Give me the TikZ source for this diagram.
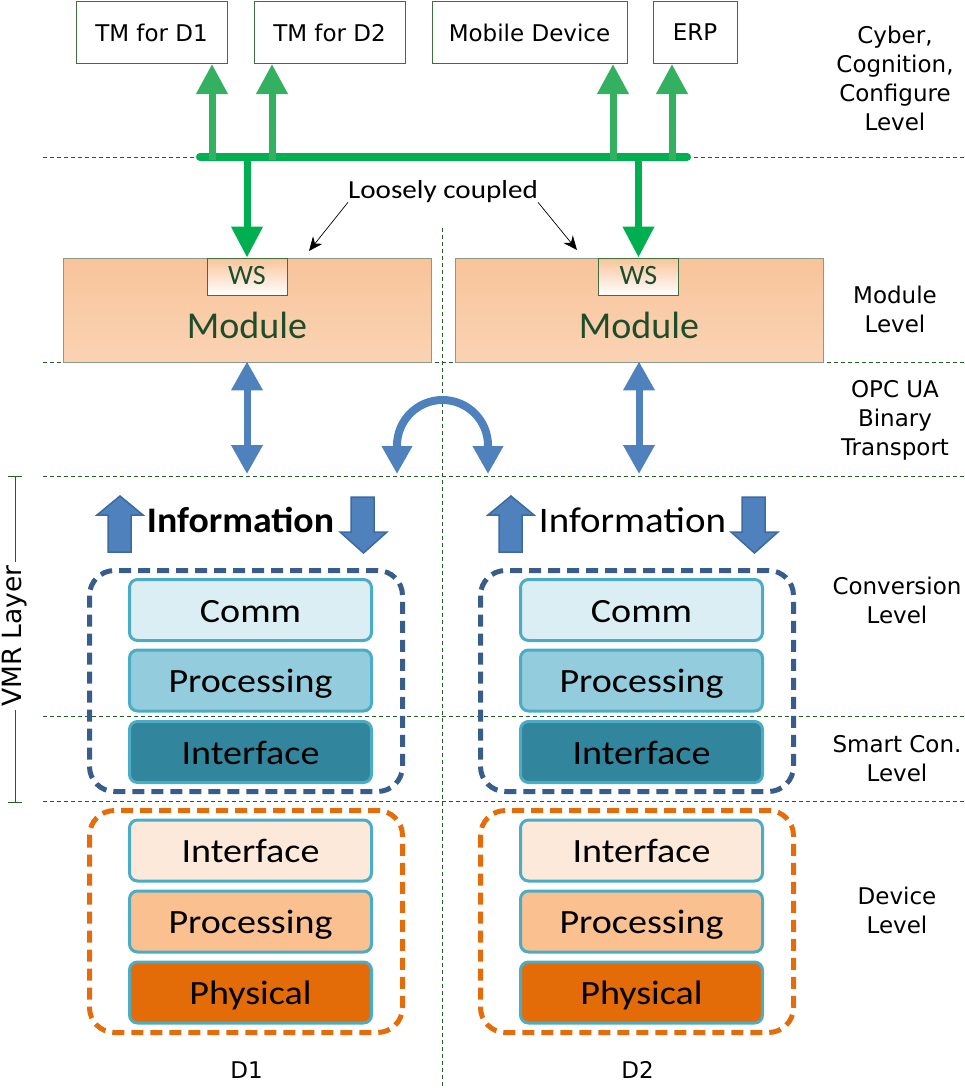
\documentclass[tikz,border=0pt]{standalone}
\usepackage{fontspec}
\setmainfont{DejaVu Sans}
\newfontfamily\calfont{Carlito}
\newfontfamily\calwide[FakeStretch=1.12]{Carlito}
\newfontfamily\calinfo[FakeStretch=1.08]{Carlito}
\newfontfamily\calinfob[FakeStretch=1.05]{Carlito Bold}
\usetikzlibrary{arrows.meta}
\definecolor{busgreen}{HTML}{00B050}
\definecolor{upgreen}{HTML}{33B161}
\definecolor{boxgreen}{HTML}{3F6F3F}
\definecolor{sepgreen}{HTML}{1F5F1F}
\definecolor{modtop}{HTML}{F8C49A}
\definecolor{modbot}{HTML}{FAD3B4}
\definecolor{modborder}{HTML}{8A9A8A}
\definecolor{modtext}{HTML}{1E4D2B}
\definecolor{opcblue}{HTML}{4F81BD}
\definecolor{infodraw}{HTML}{3C6AA0}
\definecolor{vmrdash}{HTML}{385D8A}
\definecolor{devdash}{HTML}{E46C0A}
\definecolor{layerborder}{HTML}{4BACC6}
\definecolor{commc}{HTML}{DAEEF3}
\definecolor{vprocc}{HTML}{93CDDD}
\definecolor{vintc}{HTML}{31859C}
\definecolor{dintc}{HTML}{FDE9D9}
\definecolor{dprocc}{HTML}{FAC090}
\definecolor{dphysc}{HTML}{E36C09}
\begin{document}
\begin{tikzpicture}[x=1pt,y=-1pt,
  topbox/.style={draw=boxgreen, line width=1pt, minimum height=62pt, inner sep=0pt, font=\fontsize{23}{28}\selectfont},
  levellabel/.style={align=center, font=\fontsize{23}{29}\selectfont},
  sepline/.style={draw=sepgreen, line width=1pt, dash pattern=on 4pt off 3pt},
  bus/.style={line width=8pt, draw=busgreen, line cap=round},
  upg/.style={line width=7pt, draw=upgreen, -{Triangle[width=30pt,length=30pt]}},
  downg/.style={line width=7pt, draw=busgreen, -{Triangle[width=30pt,length=31pt]}},
  module/.style={draw=modborder, line width=0.8pt, top color=modtop, bottom color=modbot, minimum width=368pt, minimum height=104pt, inner sep=0pt},
  wsbox/.style={draw=boxgreen, line width=0.8pt, top color=modtop, bottom color=white, minimum width=80pt, minimum height=37pt, inner sep=0pt},
  wstext/.style={text=modtext, font=\calfont\fontsize{28}{30}\selectfont, inner sep=0pt},
  modtxt/.style={text=modtext, font=\calfont\fontsize{38}{40}\selectfont, inner sep=0pt},
  opc/.style={line width=7pt, draw=opcblue, {Triangle[width=30pt,length=29pt]}-{Triangle[width=30pt,length=29pt]}},
  curvearrow/.style={line width=8pt, draw=opcblue, {Triangle[width=29pt,length=28pt]}-{Triangle[width=29pt,length=28pt]}},
  infoarrow/.style={fill=opcblue, draw=infodraw, line width=1.5pt, line join=miter},
  infotext/.style={inner sep=0pt},
  layer/.style={draw=layerborder, line width=3pt, rounded corners=8pt, minimum width=242pt, minimum height=61pt, inner sep=0pt, text height=24pt, text depth=0pt, font=\calwide\fontsize{34}{40}\selectfont},
  vmrbox/.style={draw=vmrdash, line width=5pt, dash pattern=on 12pt off 7pt, rounded corners=25pt},
  devbox/.style={draw=devdash, line width=5pt, dash pattern=on 12pt off 7pt, rounded corners=25pt},
  lcarrow/.style={draw=black, line width=0.7pt, -{Stealth[length=14pt,width=12pt]}},
  vmrline/.style={draw=sepgreen, line width=1pt},
  dlabel/.style={font=\fontsize{23}{28}\selectfont, inner sep=0pt}
]
\useasboundingbox (0,0) rectangle (965,1088);

% separator lines
\foreach \yy in {157,362,476,716,801} {\draw[sepline] (43,\yy) -- (965,\yy);}
\draw[sepline] (442,228) -- (442,1088);

% top boxes
\node[topbox, minimum width=151pt] (tm1) at (151.5,32.5) {TM for D1};
\node[topbox, minimum width=151pt] (tm2) at (329.5,32.5) {TM for D2};
\node[topbox, minimum width=195pt] (mob) at (529.5,32.5) {Mobile Device};
\node[topbox, minimum width=84pt] (erp) at (695,32.5) {ERP};

% level labels
\node[levellabel] (lvcyber) at (895,78) {Cyber,\\Cognition,\\Configure\\Level};
\node[levellabel] (lvmod) at (895,309) {Module\\Level};
\node[levellabel] (lvopc) at (895,420) {OPC UA\\Binary\\Transport};
\node[levellabel] (lvconv) at (897,600) {Conversion\\Level};
\node[levellabel] (lvsmart) at (897,759) {Smart Con.\\Level};
\node[levellabel] (lvdev) at (897,910) {Device\\Level};

% modules
\node[module] (mod1) at (247,310) {};
\node[module] (mod2) at (639,310) {};
\node[wsbox] (ws1) at (247,276.5) {};
\node[wsbox] (ws2) at (638.5,276.5) {};
\node[wstext, anchor=base] (wst1) at (247,284) {WS};
\node[wstext, anchor=base] (wst2) at (638.5,284) {WS};
\node[modtxt, anchor=base] (mt1) at (247,338) {Module};
\node[modtxt, anchor=base] (mt2) at (639,338) {Module};

% bus
\coordinate (busl) at (200,157);
\coordinate (busr) at (687,157);
\draw[bus] (busl) -- (busr);
\coordinate (b1) at (212,160);
\coordinate (b2) at (272,160);
\coordinate (b3) at (613,160);
\coordinate (b4) at (672,160);
\draw[upg] (b1) -- (b1 |- tm1.south);
\draw[upg] (b2) -- (b2 |- tm2.south);
\draw[upg] (b3) -- (b3 |- mob.south);
\draw[upg] (b4) -- (b4 |- erp.south);
\coordinate (bd1) at (247,157);
\coordinate (bd2) at (638.5,157);
\draw[downg] (bd1) -- (ws1.north);
\draw[downg] (bd2) -- (ws2.north);

% loosely coupled
\node[font=\calwide\fontsize{26}{28}\selectfont, inner sep=0pt, anchor=base] (lc) at (443,198) {Loosely coupled};
\coordinate (lct1) at (309,251);
\coordinate (lct2) at (577,250);
\draw[lcarrow] (lc.south west) -- (lct1);
\draw[lcarrow] (lc.south east) -- (lct2);

% OPC UA arrows
\coordinate (o1) at (247,474);
\coordinate (o2) at (639,474);
\draw[opc] ([yshift=1pt]mod1.south) -- (o1);
\draw[opc] ([yshift=1pt]mod2.south) -- (o2);
\coordinate (ca) at (397,474);
\coordinate (cb) at (488,474);
\draw[curvearrow] (ca) -- (397,445.5) arc[start angle=180, end angle=360, radius=45.5] -- (cb);

% VMR layer bracket
\draw[vmrline] (8,476) -- (22,476);
\draw[vmrline] (8,802) -- (22,802);
\draw[vmrline] (15,476) -- (15,802);
\node[rotate=90, fill=white, inner sep=3pt, font=\fontsize{26.5}{30}\selectfont] (vmr) at (15,636) {VMR Layer};

% device stacks
\foreach \i/\dx in {1/0,2/391} {
  \begin{scope}[xshift=\dx pt]
    \draw[infoarrow] (108,552) -- (108,515) -- (97,515) -- (120,496) -- (143,515) -- (131,515) -- (131,552) -- cycle;
    \draw[infoarrow] (351,497) -- (374,497) -- (374,532) -- (387,532) -- (363.5,553) -- (340,532) -- (351,532) -- cycle;
    \draw[vmrbox] (89.5,570.5) rectangle (402.5,791.5);
    \draw[devbox] (89.5,810.5) rectangle (402.5,1032.5);
    \node[layer, fill=commc] (vcomm\i) at (250.5,610) {Comm};
    \node[layer, fill=vprocc] (vproc\i) at (250.5,680.5) {Processing};
    \node[layer, fill=vintc] (vint\i) at (250.5,752) {Interface};
    \node[layer, fill=dintc] (dint\i) at (250.5,850.5) {Interface};
    \node[layer, fill=dprocc] (dproc\i) at (250.5,921.5) {Processing};
    \node[layer, fill=dphysc] (dphys\i) at (250.5,992.5) {Physical};
    \node[dlabel, anchor=base] (dl\i) at (246.5,1078) {D\i};
  \end{scope}
}
\node[infotext, anchor=base, font=\calinfob\fontsize{36}{40}\selectfont] (info1) at (240.5,532) {Information};
\node[infotext, anchor=base, font=\calinfo\fontsize{36}{40}\selectfont] (info2) at (632.5,532) {Information};
\end{tikzpicture}
\end{document}
